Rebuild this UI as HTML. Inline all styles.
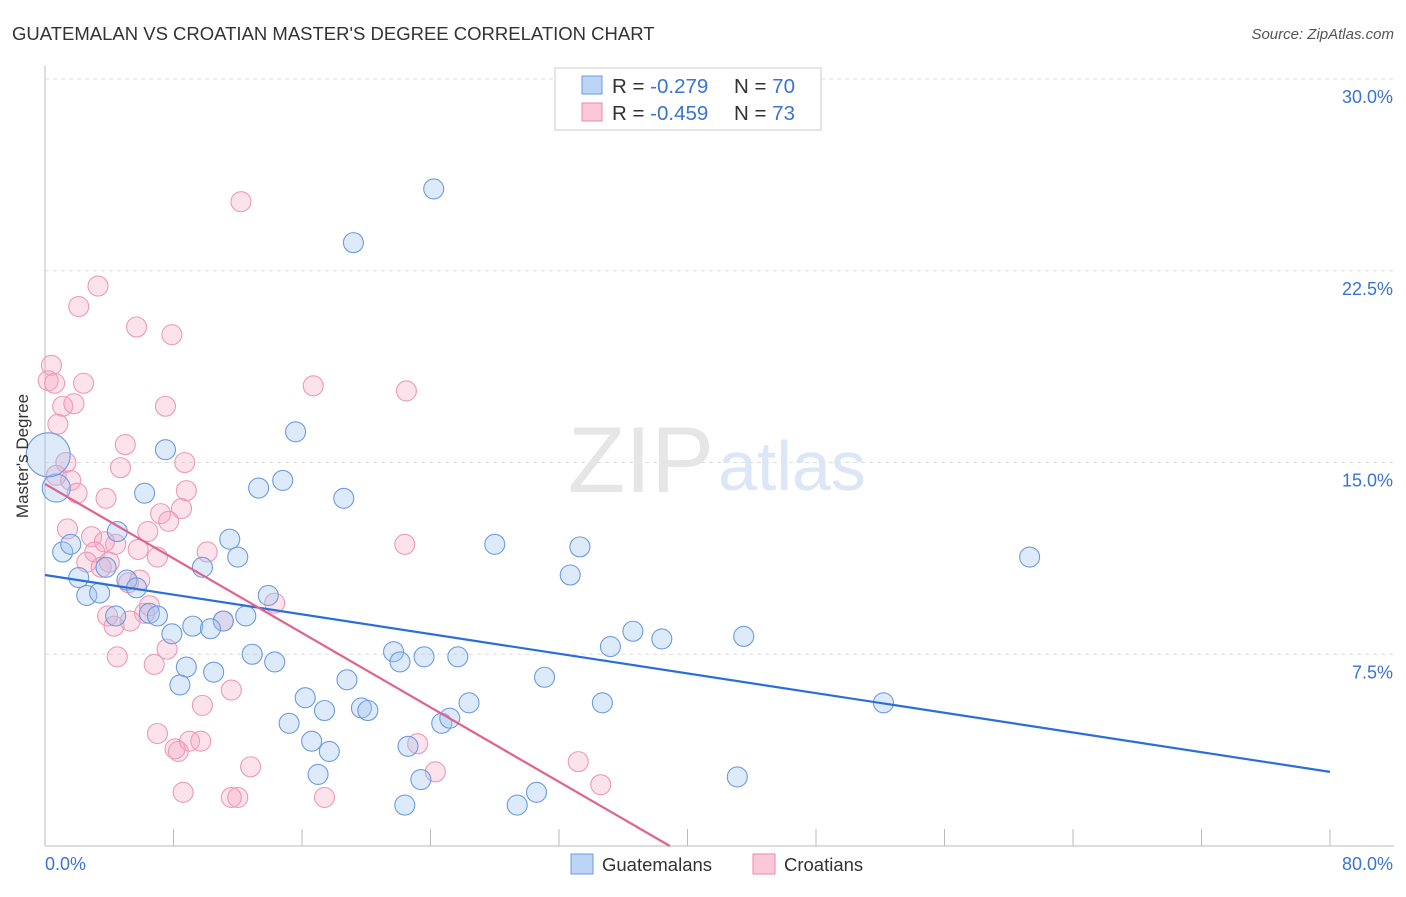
<!DOCTYPE html>
<html><head><meta charset="utf-8"><style>
body{margin:0;background:#fff;font-family:"Liberation Sans",sans-serif}
svg text{font-family:"Liberation Sans",sans-serif}
</style></head><body>
<svg width="1406" height="892" viewBox="0 0 1406 892">
<text x="12" y="40" font-size="18.5" fill="#333">GUATEMALAN VS CROATIAN MASTER'S DEGREE CORRELATION CHART</text>
<text x="1394" y="39" font-size="15" fill="#555" font-style="italic" text-anchor="end">Source: ZipAtlas.com</text>
<g id="grid"></g>
<text x="714" y="492" font-size="94" fill="#e6e6e6" text-anchor="end" font-family="Liberation Serif">ZIP</text>
<text x="718" y="490" font-size="70" fill="#dbe7f6">atlas</text>
<g id="pts"></g>
<g id="lines"></g>
<text x="28" y="456" font-size="17" fill="#333" text-anchor="middle" transform="rotate(-90 28 456)">Master's Degree</text>
<g>
<rect x="555" y="68" width="266" height="62" fill="#fff" stroke="#ccc"/>
<rect x="582" y="76" width="20" height="18" fill="#bcd4f5" stroke="#6d9be0"/>
<rect x="582" y="103" width="20" height="18" fill="#fac8d8" stroke="#e98aab"/>
<text x="612" y="93" font-size="20.5" fill="#333">R = <tspan fill="#3b73d4">-0.279</tspan><tspan x="734">N = </tspan><tspan fill="#3b73d4">70</tspan></text>
<text x="612" y="120" font-size="20.5" fill="#333">R = <tspan fill="#3b73d4">-0.459</tspan><tspan x="734">N = </tspan><tspan fill="#3b73d4">73</tspan></text>
</g>
<g>
<rect x="571" y="854" width="22" height="20" fill="#bcd4f5" stroke="#6d9be0"/>
<text x="602" y="871" font-size="18.5" fill="#333">Guatemalans</text>
<rect x="753" y="854" width="22" height="20" fill="#fac8d8" stroke="#e98aab"/>
<text x="784" y="871" font-size="18.5" fill="#333">Croatians</text>
</g>
</svg>
<script>
const xTicks=[0,8,16,24,32,40,48,56,64,72,80];
const yTicks=[7.5,15,22.5,30];
const yTickLabels=["7.5%","15.0%","22.5%","30.0%"];
const blueX=[24.2,19.2,15.6,7.5,14.8,13.3,6.2,18.6,0.7,0.2,1.1,1.6,4.5,11.5,12.0,28.0,33.3,61.3,2.1,3.8,32.7,5.1,5.7,2.6,3.4,13.9,9.8,4.4,6.5,7.0,12.5,11.1,9.2,10.3,7.9,36.6,38.4,43.5,35.2,12.9,14.3,21.7,22.1,23.6,25.7,8.8,10.5,18.8,31.1,8.4,16.2,17.4,19.7,20.1,26.4,34.7,52.2,15.2,24.7,25.2,16.6,17.7,22.6,17.0,23.4,43.1,30.6,22.4,29.4];
const blueY=[25.7,23.6,16.2,15.5,14.3,14.0,13.8,13.6,14.0,15.3,11.5,11.8,12.3,12.0,11.3,11.8,11.7,11.3,10.5,10.9,10.6,10.4,10.1,9.8,9.9,9.8,10.9,9.0,9.1,9.0,9.0,8.8,8.6,8.5,8.3,8.4,8.1,8.2,7.8,7.5,7.2,7.6,7.2,7.4,7.4,7.0,6.8,6.5,6.6,6.3,5.8,5.3,5.4,5.3,5.6,5.6,5.6,4.8,4.8,5.0,4.1,3.7,3.9,2.8,2.6,2.7,2.1,1.6,1.6];
const blueSize=[1,1,1,1,1,1,1,1,1.4,2.2];
const pinkX=[12.2,3.3,2.1,5.7,7.9,0.4,0.2,0.6,2.4,16.7,22.5,1.1,1.8,7.5,0.8,5.0,1.3,8.7,0.7,1.6,4.7,2.0,8.8,3.8,8.5,7.2,7.7,1.4,6.4,2.9,4.4,3.7,5.8,10.1,3.1,7.0,2.6,4.0,3.5,5.9,22.4,5.2,14.3,6.5,3.9,6.2,4.3,5.3,11.1,4.5,7.6,6.8,11.6,9.8,7.0,8.3,8.1,9.0,9.7,8.6,12.8,12.0,11.6,17.4,23.2,24.3,33.2,34.6];
const pinkY=[25.2,21.9,21.1,20.3,20.0,18.8,18.2,18.1,18.1,18.0,17.8,17.2,17.3,17.2,16.5,15.7,15.0,15.0,14.5,14.3,14.8,13.8,13.9,13.6,13.2,13.0,12.7,12.4,12.3,12.1,11.8,11.9,11.6,11.5,11.5,11.3,11.1,11.1,10.9,10.4,11.8,10.3,9.5,9.4,9.0,9.1,8.6,8.8,8.8,7.4,7.7,7.1,6.1,5.5,4.4,3.7,3.8,4.1,4.1,2.1,3.1,1.9,1.9,1.9,4.0,2.9,3.3,2.4];
const blueTrend=[10.6,2.9];
const pinkTrend=[14.16,0];const pinkTrendEndX=38.9;
const NS="http://www.w3.org/2000/svg";
const X=v=>45+v/80*1285, Y=v=>846-v/30*767;
function mk(t,a,p){const e=document.createElementNS(NS,t);for(const k in a)e.setAttribute(k,a[k]);p.appendChild(e);return e;}
const grid=document.getElementById('grid');
const ax=mk('line',{x1:45,y1:66,x2:45,y2:846,stroke:'#bbb'},grid);


const bx=mk('line',{x1:45,y1:846,x2:1394,y2:846,stroke:'#bbb'},grid);


yTicks.forEach((v,i)=>{
 const g=mk('line',{x1:45,x2:1394,y1:Y(v),y2:Y(v),stroke:'#ddd','stroke-dasharray':'4,4'},grid);
 
 
 const t=mk('text',{x:1393,y:Y(v)+24,'font-size':18,fill:'#3b73d4','text-anchor':'end'},grid);t.textContent=yTickLabels[i];
 
 
});
xTicks.forEach(v=>{if(v===0)return;
 const l=mk('line',{x1:X(v),x2:X(v),y1:829,y2:846,stroke:'#bbb'},grid);
 
 
});
const t0=mk('text',{x:45,y:870,'font-size':18,fill:'#3b73d4'},grid);t0.textContent='0.0%';


const t1=mk('text',{x:1393,y:870,'font-size':18,fill:'#3b73d4','text-anchor':'end'},grid);t1.textContent='80.0%';


const pts=document.getElementById('pts');
pinkX.forEach((x,i)=>{const c=mk('circle',{cx:X(x),cy:Y(pinkY[i]),r:10,fill:'rgba(245,165,192,0.32)',stroke:'#ec9ab6','stroke-width':1.1},pts);
 
 });
blueX.forEach((x,i)=>{const c=mk('circle',{cx:X(x),cy:Y(blueY[i]),r:10*(blueSize[i]||1),fill:'rgba(160,196,240,0.36)',stroke:'#6d9be0','stroke-width':1.1},pts);
 
 });
const lines=document.getElementById('lines');
const bl=mk('line',{x1:X(0),y1:Y(blueTrend[0]),x2:X(80),y2:Y(blueTrend[1]),stroke:'#2a6fd6','stroke-width':2.2},lines);


const pl=mk('line',{x1:X(0),y1:Y(pinkTrend[0]),x2:X(pinkTrendEndX),y2:Y(pinkTrend[1]),stroke:'#e0628f','stroke-width':2.2},lines);


</script>
</body></html>
